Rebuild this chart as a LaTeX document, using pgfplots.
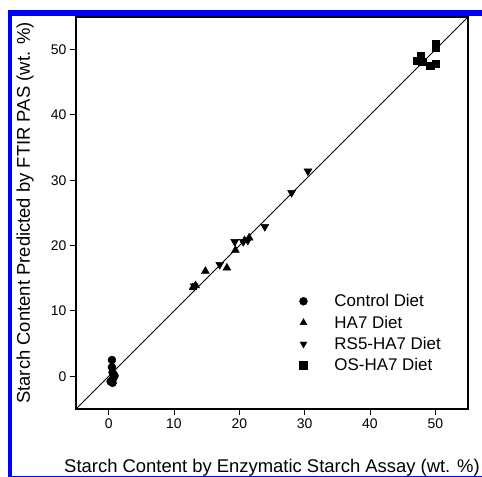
\documentclass[border=0pt]{standalone}
\usepackage{fontspec}
\setmainfont{Liberation Sans}
\usepackage{pgfplots}
\pgfplotsset{compat=1.18}
\begin{document}
\begin{tikzpicture}
\useasboundingbox (0bp,0bp) rectangle (482bp,477bp);
\fill[blue] (8bp,461bp) rectangle (482bp,467bp);
\fill[blue] (8bp,0bp) rectangle (12bp,467bp);
\fill[blue] (8bp,0bp) rectangle (482bp,1bp);
\begin{axis}[
  at={(76bp,68bp)}, anchor=south west,
  scale only axis, width=392bp, height=392bp,
  xmin=-5, xmax=55, ymin=-5, ymax=55,
  xtick={0,10,...,50}, ytick={0,10,...,50},
  tick align=outside, major tick length=6bp,
  xtick pos=bottom, ytick pos=left,
  axis line style={line width=1.4bp},
  every tick/.style={black, line width=1bp},
  /pgf/number format/assume math mode=true,
  tick label style={font=\fontsize{14}{16}\selectfont},
  xlabel={Starch Content by Enzymatic Starch Assay (wt. \%)},
  ylabel={Starch Content Predicted by FTIR PAS (wt. \%)},
  label style={font=\fontsize{18.5}{22}\selectfont},
  xlabel style={at={(axis description cs:0.5,0)}, anchor=base, yshift=-63bp},
  ylabel style={at={(axis description cs:0,0.5)}, anchor=base, rotate=0, yshift=46bp},
  legend image code/.code={\draw[#1, mark size=4bp] plot coordinates {(0bp,0bp)};},
  legend style={draw=none, fill=none, at={(0.562,0.303)}, anchor=north west,
    font=\fontsize{17}{20}\selectfont, row sep=3.6bp, column sep=25bp},
  legend cell align=left,
]
\addplot[black, line width=0.8bp, no marks, forget plot] coordinates {(-5,-5) (55,55)};
\addplot[only marks, mark=*, mark size=4bp, black] coordinates {
(0.5,2.5) (0.5,1.4) (0.6,0.6) (0.9,0.1) (0.7,-0.3) (0.3,-0.8) (0.6,-1.0)};
\addlegendentry{Control Diet}
\addplot[only marks, mark=triangle*, mark size=4.6bp, black] coordinates {
(12.9,13.6) (13.3,13.9) (14.8,16.1) (18.1,16.6) (19.4,19.3) (20.8,20.8) (21.5,21.2)};
\addlegendentry{HA7 Diet}
\addplot[only marks, mark=triangle*, mark options={rotate=180}, mark size=4.6bp, black] coordinates {
(13.1,13.8) (17.0,17.1) (19.3,20.6) (20.6,20.6) (21.3,20.8) (23.9,22.9) (28.0,28.1) (30.5,31.4)};
\addlegendentry{RS5-HA7 Diet}
\addplot[only marks, mark=square*, mark size=3.6bp, black] coordinates {
(47.2,48.3) (47.8,49.0) (48.0,48.2) (49.2,47.6) (50.0,47.9) (50.0,50.3) (50.0,50.9)};
\addlegendentry{OS-HA7 Diet}
\end{axis}
\end{tikzpicture}
\end{document}
